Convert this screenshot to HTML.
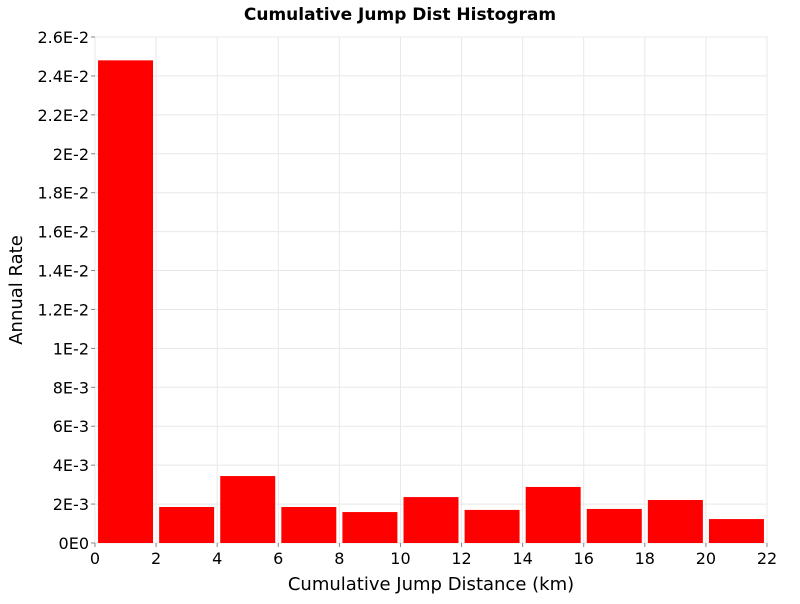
<!DOCTYPE html>
<html><head><meta charset="utf-8"><style>
body{margin:0;background:#fff;font-family:"DejaVu Sans","Liberation Sans",sans-serif;}
</style></head><body>
<svg id="chart" width="800" height="600" xmlns="http://www.w3.org/2000/svg">
<text x="400" y="20" text-anchor="middle" font-size="17" font-weight="bold" font-family="DejaVu Sans, sans-serif">Cumulative Jump Dist Histogram</text>
<rect x="95" y="37" width="672" height="506" fill="#fff" stroke="#bbb"/>
<g id="grid"></g><g id="bars"></g><g id="axes"></g>
<text x="431" y="590" text-anchor="middle" font-size="18">Cumulative Jump Distance (km)</text>
<text transform="translate(22,290) rotate(-90)" text-anchor="middle" font-size="18">Annual Rate</text>
</svg>
<script>
const binCenters=[1,3,5,7,9,11,13,15,17,19,21];
const rates=[0.0248,0.00185,0.00344,0.00185,0.00159,0.00236,0.0017,0.00288,0.00175,0.00221,0.00123];
const xTicks=[0,2,4,6,8,10,12,14,16,18,20,22];
const yTicks=[0,0.002,0.004,0.006,0.008,0.010,0.012,0.014,0.016,0.018,0.020,0.022,0.024,0.026];
const yLabels=["0E0","2E-3","4E-3","6E-3","8E-3","1E-2","1.2E-2","1.4E-2","1.6E-2","1.8E-2","2E-2","2.2E-2","2.4E-2","2.6E-2"];
const NS="http://www.w3.org/2000/svg";
const X0=95,X1=767,Y0=543,Y1=37;
const xs=v=>X0+(v/22)*(X1-X0);
const ys=v=>Y0-(v/0.026)*(Y0-Y1);
function mk(t,a,p){const e=document.createElementNS(NS,t);for(const k in a)e.setAttribute(k,a[k]);p.appendChild(e);return e;}
const grid=document.getElementById('grid'),bars=document.getElementById('bars'),axes=document.getElementById('axes');
xTicks.forEach(v=>{
 const l=mk('line',{x1:xs(v),x2:xs(v),y1:Y1,y2:Y0,stroke:'#e8e8e8'},grid);
 
 
 const t=mk('text',{x:xs(v),y:Y0+21,'text-anchor':'middle','font-size':'16'},axes);
 t.textContent=v;
 
 
 mk('line',{x1:xs(v),x2:xs(v),y1:Y0,y2:Y0+4,stroke:'#888'},axes);
});
yTicks.forEach((v,i)=>{
 const l=mk('line',{x1:X0,x2:X1,y1:ys(v),y2:ys(v),stroke:'#e8e8e8'},grid);
 
 
 const t=mk('text',{x:X0-6,y:ys(v)+6,'text-anchor':'end','font-size':'16'},axes);
 t.textContent=yLabels[i];
 
 
 mk('line',{x1:X0-4,x2:X0,y1:ys(v),y2:ys(v),stroke:'#888'},axes);
});
binCenters.forEach((c,i)=>{
 const left=Math.max(0,c-0.9),right=c+0.9;
 const r=mk('rect',{x:xs(left),y:ys(rates[i]),width:xs(right)-xs(left),height:Y0-ys(rates[i]),fill:'#ff0000'},bars);
 
 
});
</script>
</body></html>
